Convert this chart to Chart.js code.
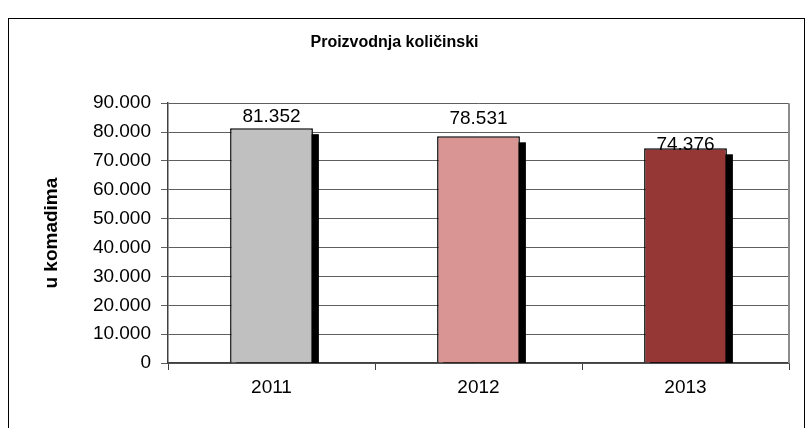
<!DOCTYPE html>
<html>
<head>
<meta charset="utf-8">
<script src="https://cdn.jsdelivr.net/npm/chart.js@4/dist/chart.umd.min.js"></script>
<style>
    html, body { margin: 0; padding: 0; background: #fff; }
    #wrap { position: relative; width: 806px; height: 428px; overflow: hidden; }
    #frame { position: absolute; left: 8px; top: 18px; width: 795px; height: 420px; border: 1px solid #000; }
    #chart { position: absolute; left: 0; top: 0; }
</style>
</head>
<body>
<div id="wrap">
    <div id="frame"></div>
    <canvas id="chart" width="806" height="428"></canvas>
</div>
<script>
// 데이터
const years = ['2011', '2012', '2013'];
const quantities = [81352, 78531, 74376];
const barColors = ['#C0C0C0', '#D99594', '#953735'];
const yTicks = [0, 10000, 20000, 30000, 40000, 50000, 60000, 70000, 80000, 90000];

// 숫자 포맷 (81.352)
function fmt(v) {
    return v.toLocaleString('de-DE');
}

// 막대 그림자
const shadowPlugin = {
    id: 'barShadow',
    beforeDatasetsDraw(chart) {
        const ctx = chart.ctx;
        const area = chart.chartArea;
        const off = 6;
        ctx.save();
        ctx.beginPath();
        ctx.rect(area.left, area.top - 20, area.right - area.left, area.bottom - area.top + 20);
        ctx.clip();
        ctx.fillStyle = '#000';
        chart.getDatasetMeta(0).data.forEach(bar => {
            const p = bar.getProps(['x', 'y', 'width', 'base'], true);
            ctx.fillRect(p.x - p.width / 2 + off, p.y + off, p.width, p.base - p.y);
        });
        ctx.restore();
    }
};

// 값 라벨 + 오른쪽 테두리
const labelPlugin = {
    id: 'valueLabels',
    afterDatasetsDraw(chart, args, opts) {
        const ctx = chart.ctx;
        const area = chart.chartArea;
        ctx.save();
        ctx.strokeStyle = '#8c8c8c';
        ctx.lineWidth = 2;
        ctx.beginPath();
        ctx.moveTo(area.right, area.top);
        ctx.lineTo(area.right, area.bottom);
        ctx.stroke();

        ctx.fillStyle = '#000';
        ctx.font = '19px "Liberation Sans", Arial, sans-serif';
        ctx.textAlign = 'center';
        ctx.textBaseline = 'alphabetic';
        chart.getDatasetMeta(0).data.forEach((bar, i) => {
            ctx.fillText(fmt(quantities[i]), bar.x, bar.y - opts.gaps[i]);
        });
        ctx.restore();
    }
};

new Chart(document.getElementById('chart'), {
    type: 'bar',
    data: {
        labels: years,
        datasets: [{
            data: quantities,
            backgroundColor: barColors,
            borderColor: '#000',
            borderWidth: 1.5,
            borderSkipped: 'bottom',
            categoryPercentage: 1,
            barPercentage: 0.4
        }]
    },
    options: {
        responsive: false,
        animation: false,
        events: [],
        layout: { padding: { left: 0, top: 0, right: 17, bottom: 0 } },
        plugins: {
            legend: { display: false },
            tooltip: { enabled: false },
            title: {
                display: true,
                text: 'Proizvodnja količinski',
                color: '#000',
                font: { family: '"Liberation Sans", Arial, sans-serif', size: 16, weight: 'bold' },
                padding: { top: 33, bottom: 51 }
            },
            valueLabels: { gaps: [6, 12, -2] }
        },
        scales: {
            y: {
                min: 0,
                max: 90000,
                afterBuildTicks(scale) {
                    scale.ticks = yTicks.map(v => ({ value: v }));
                },
                afterFit(scale) { scale.width = 168; },
                ticks: {
                    color: '#000',
                    padding: 10,
                    font: { family: '"Liberation Sans", Arial, sans-serif', size: 19 },
                    callback: v => fmt(v)
                },
                grid: { color: '#5f5f5f', lineWidth: 1, tickLength: 7 },
                border: { color: '#404040', width: 1.5 },
                title: {
                    display: true,
                    text: 'u komadima',
                    color: '#000',
                    font: { family: '"Liberation Sans", Arial, sans-serif', size: 19, weight: 'bold' },
                    padding: { top: 40 }
                }
            },
            x: {
                afterFit(scale) { scale.height = 65; },
                ticks: {
                    color: '#000',
                    padding: 6,
                    font: { family: '"Liberation Sans", Arial, sans-serif', size: 19 }
                },
                grid: {
                    offset: true,
                    drawOnChartArea: false,
                    color: '#404040',
                    tickLength: 7
                },
                border: { color: '#404040', width: 1.5 }
            }
        }
    },
    plugins: [shadowPlugin, labelPlugin]
});
</script>
</body>
</html>
